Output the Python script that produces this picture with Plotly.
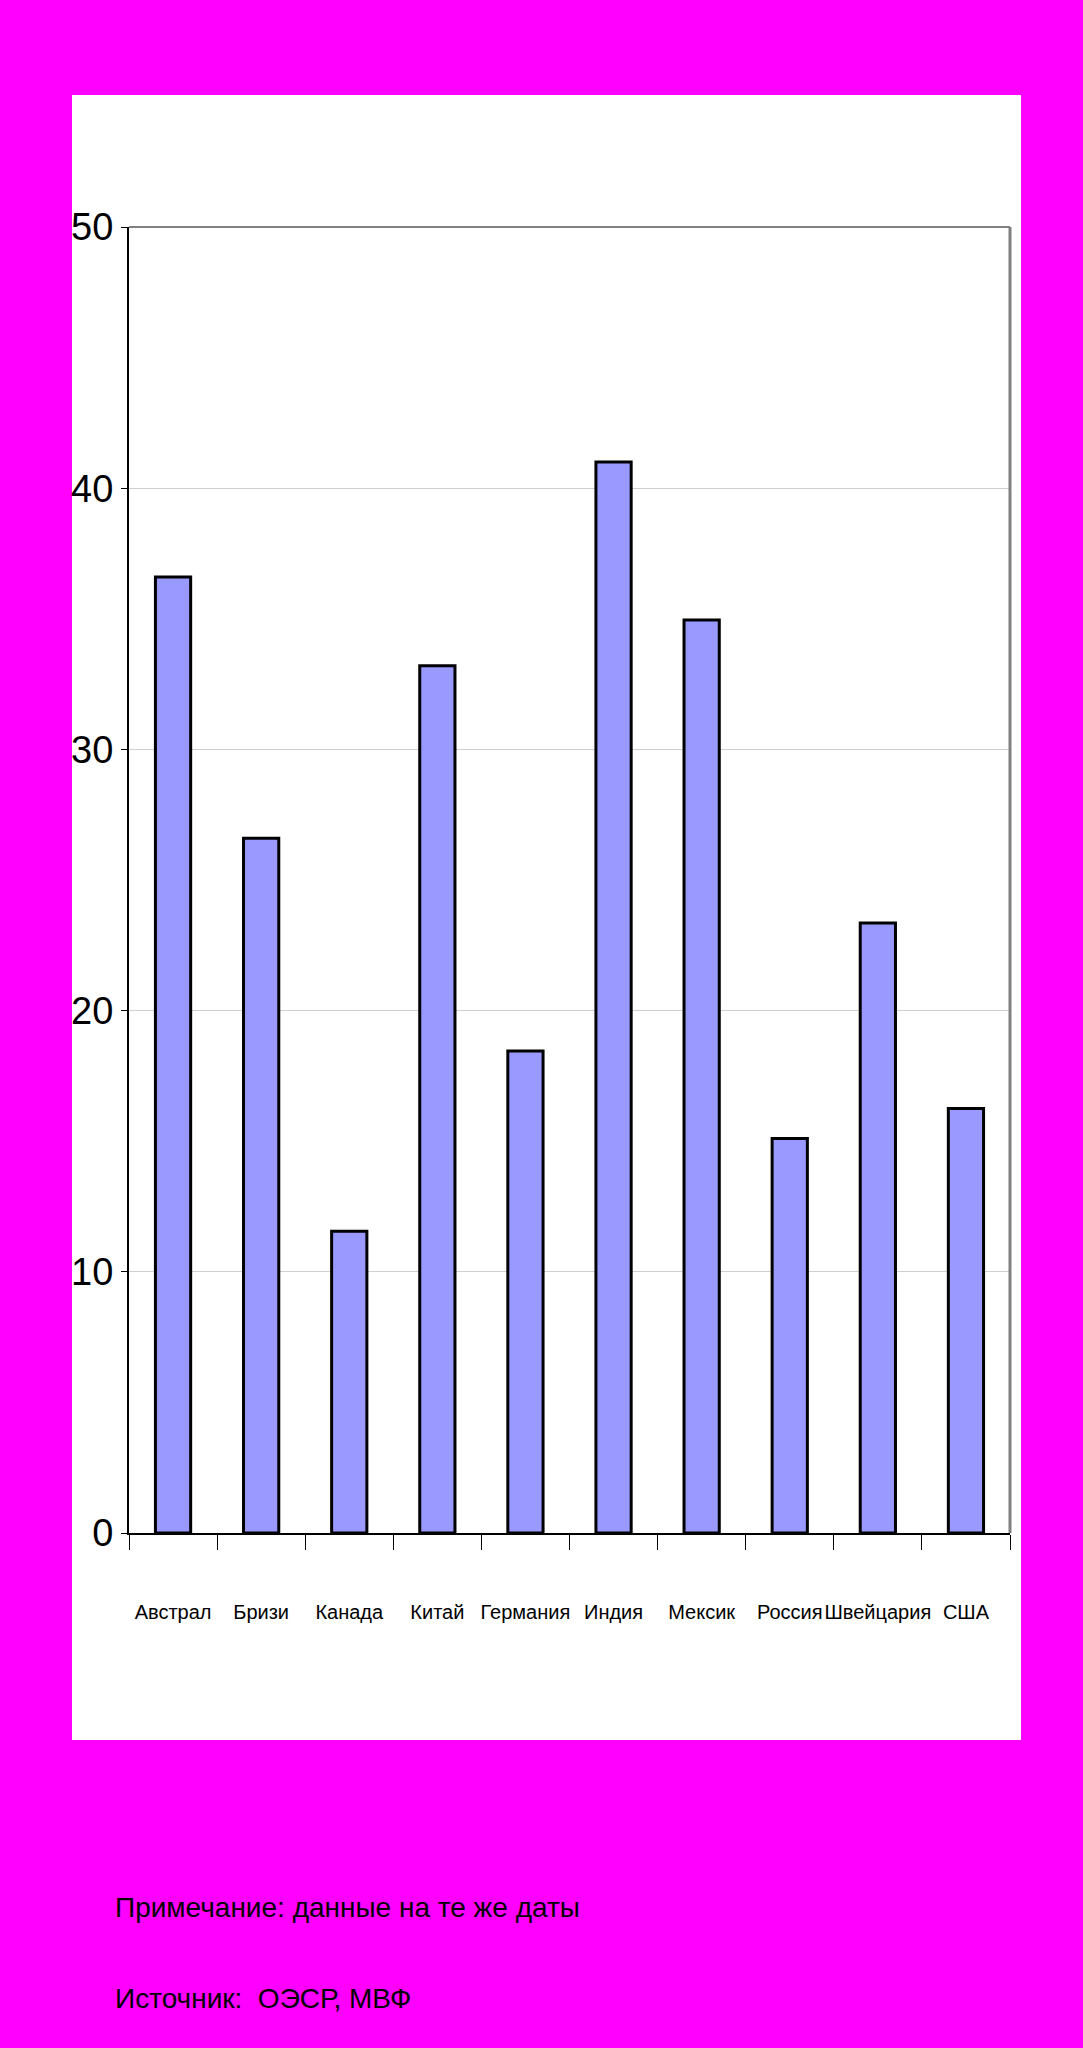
import plotly.graph_objects as go

categories = ["Австрал", "Бризи", "Канада", "Китай", "Германия", "Индия", "Мексик", "Россия", "Швейцария", "США"]
values = [36.6, 26.6, 11.55, 33.2, 18.45, 41.0, 34.95, 15.1, 23.35, 16.25]
y_ticks = [0, 10, 20, 30, 40, 50]
note_lines = ["Примечание: данные на те же даты", "Источник:  ОЭСР, МВФ"]

FONT = "Liberation Sans Narrow, Liberation Sans, Arial, sans-serif"

W, H = 1083, 2048
L, R, T, B = 129, 1010, 227, 1533
pw, ph = R - L, B - T

def px_x(px):
    return (px - L) / pw

def px_y(py):
    return (B - py) / ph

fig = go.Figure()
fig.add_trace(go.Bar(
    x=categories, y=values,
    marker=dict(color="#9999FF", line=dict(color="black", width=3)),
    width=0.4,
))

# white panel
fig.add_shape(type="rect", xref="paper", yref="paper",
              x0=px_x(72), x1=px_x(1021), y0=px_y(1740), y1=px_y(95),
              fillcolor="white", line=dict(width=0), layer="below")
# gray frame top/right
fig.add_shape(type="line", xref="paper", yref="paper", x0=0, x1=1, y0=1, y1=1,
              line=dict(color="#808080", width=2))
fig.add_shape(type="line", xref="paper", yref="paper", x0=1, x1=1, y0=0, y1=1,
              line=dict(color="#808080", width=3))

fig.add_annotation(text=note_lines[0], xref="paper", yref="paper",
                   x=px_x(113), y=px_y(1907), xanchor="left", yanchor="middle",
                   showarrow=False, font=dict(family=FONT, size=28, color="black"))
fig.add_annotation(text=note_lines[1], xref="paper", yref="paper",
                   x=px_x(113), y=px_y(1998), xanchor="left", yanchor="middle",
                   showarrow=False, font=dict(family=FONT, size=28, color="black"))

fig.update_layout(
    width=W, height=H,
    margin=dict(l=L, r=W - R, t=T, b=H - B, pad=0),
    paper_bgcolor="#FF00FF",
    plot_bgcolor="#FFFFCC",
    showlegend=False,
    font=dict(family=FONT, color="black"),
)
fig.update_xaxes(
    range=[-0.5, len(categories) - 0.5],
    showline=True, linecolor="black", linewidth=2,
    ticks="outside", tickson="boundaries", ticklen=15, tickcolor="black", tickwidth=1,
    tickfont=dict(family=FONT, size=20, color="black"),
    tickangle=0,
    ticklabelstandoff=60,
    showgrid=False, zeroline=False,
)
fig.update_yaxes(
    range=[0, 50], tickvals=y_ticks,
    showline=True, linecolor="black", linewidth=2,
    ticks="outside", ticklen=6, tickcolor="black",
    tickfont=dict(family=FONT, size=38, color="black"),
    showgrid=True, gridcolor="#D0D0D0", gridwidth=1,
    zeroline=False,
)

fig.write_html(
    "out.html",
    config={"displayModeBar": False},
    post_script="document.body.style.margin='0';document.body.style.background='#FF00FF';",
)
